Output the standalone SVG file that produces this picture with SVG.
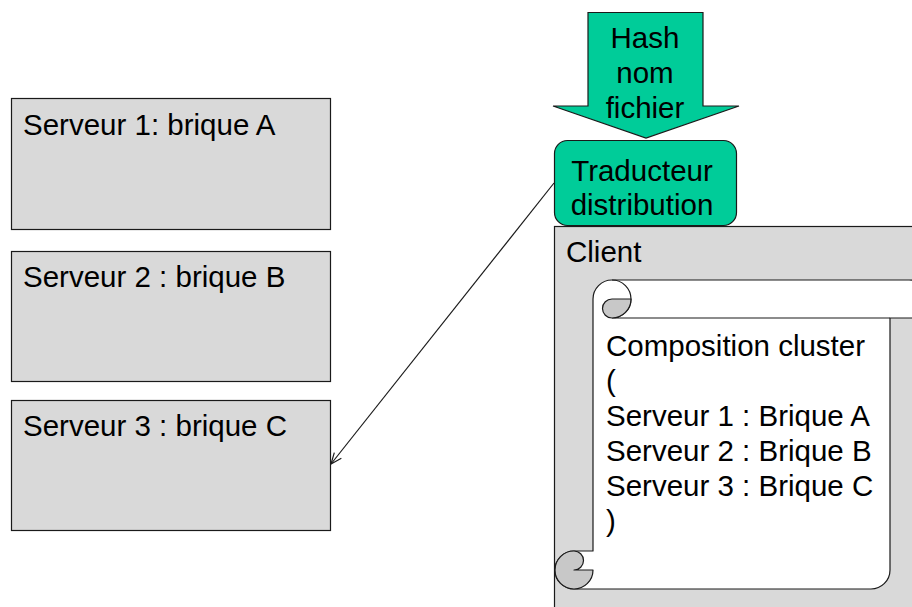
<svg xmlns="http://www.w3.org/2000/svg" width="912" height="607" viewBox="0 0 912 607">
  <defs>
    <style>
      .box { fill: #d9d9d9; stroke: #1a1a1a; stroke-width: 1.2; }
      .teal { fill: #00cc99; stroke: #1a1a1a; stroke-width: 1.2; }
      .txt { font-family: "Liberation Sans", Arial, sans-serif; font-size: 29.5px; fill: #000; }
      .mid { text-anchor: middle; }
      .line { fill: none; stroke: #1a1a1a; stroke-width: 1.2; }
      .curl { fill: #c8c8c8; stroke: #1a1a1a; stroke-width: 1.2; stroke-linejoin: round; }
      .sheet { fill: #ffffff; stroke: #1a1a1a; stroke-width: 1.2; stroke-linejoin: round; }
    </style>
    <marker id="openArrow" markerWidth="14" markerHeight="12" refX="12" refY="5" orient="auto" markerUnits="userSpaceOnUse">
      <path d="M1,0.5 L12,5 L1,9.5" fill="none" stroke="#1a1a1a" stroke-width="1.2"/>
    </marker>
  </defs>

  <!-- Server bricks -->
  <g id="serveur1">
    <rect class="box" x="11.5" y="98.5" width="319" height="131"/>
    <text class="txt" x="23" y="135">Serveur 1: brique A</text>
  </g>
  <g id="serveur2">
    <rect class="box" x="11.5" y="251.5" width="319" height="130"/>
    <text class="txt" x="23" y="287">Serveur 2 : brique B</text>
  </g>
  <g id="serveur3">
    <rect class="box" x="11.5" y="400.5" width="319" height="130"/>
    <text class="txt" x="23" y="436">Serveur 3 : brique C</text>
  </g>

  <!-- Client with cluster composition scroll -->
  <g id="client">
    <rect class="box" x="554.5" y="226.5" width="400" height="420"/>
    <text class="txt" x="566" y="262">Client</text>
    <g id="composition">
      <path class="sheet" d="M574,589 L871,589 A19,19 0 0 0 890,570 L890,318 L909,318 A19,19 0 0 0 909,280 L612,280 A19,19 0 0 0 593,299 L593,551 L574,551 A19,19 0 0 0 574,589 Z"/>
      <path class="line" d="M612,280 A19,19 0 0 1 612,318 L890,318"/>
      <path class="curl" d="M631,299 A19,19 0 0 1 612,318 A9.5,9.5 0 0 1 612,299 Z"/>
      <path class="curl" d="M574,551 A19,19 0 1 0 593,570 L574,570 A9.5,9.5 0 0 0 574,551 Z"/>
      <text class="txt" x="606" y="356">Composition cluster</text>
      <text class="txt" x="606" y="391">(</text>
      <text class="txt" x="606" y="426">Serveur 1 : Brique A</text>
      <text class="txt" x="606" y="461">Serveur 2 : Brique B</text>
      <text class="txt" x="606" y="496">Serveur 3 : Brique C</text>
      <text class="txt" x="606" y="531">)</text>
    </g>
  </g>

  <!-- Hash input arrow -->
  <g id="hash">
    <polygon class="teal" points="588,12.5 703,12.5 703,106 739,106 646,138 553,106 588,106"/>
    <text class="txt mid" x="645" y="48">Hash</text>
    <text class="txt mid" x="645" y="83">nom</text>
    <text class="txt mid" x="645" y="118">fichier</text>
  </g>

  <!-- Distribution translator -->
  <g id="traducteur">
    <rect class="teal" x="554.5" y="140.5" width="182" height="85" rx="13" ry="13"/>
    <text class="txt mid" x="642" y="181">Traducteur</text>
    <text class="txt mid" x="642" y="215">distribution</text>
  </g>

  <!-- Connectors -->
  <g id="connectors">
    <line class="line" x1="554" y1="183" x2="331" y2="464" marker-end="url(#openArrow)"/>
  </g>
</svg>
